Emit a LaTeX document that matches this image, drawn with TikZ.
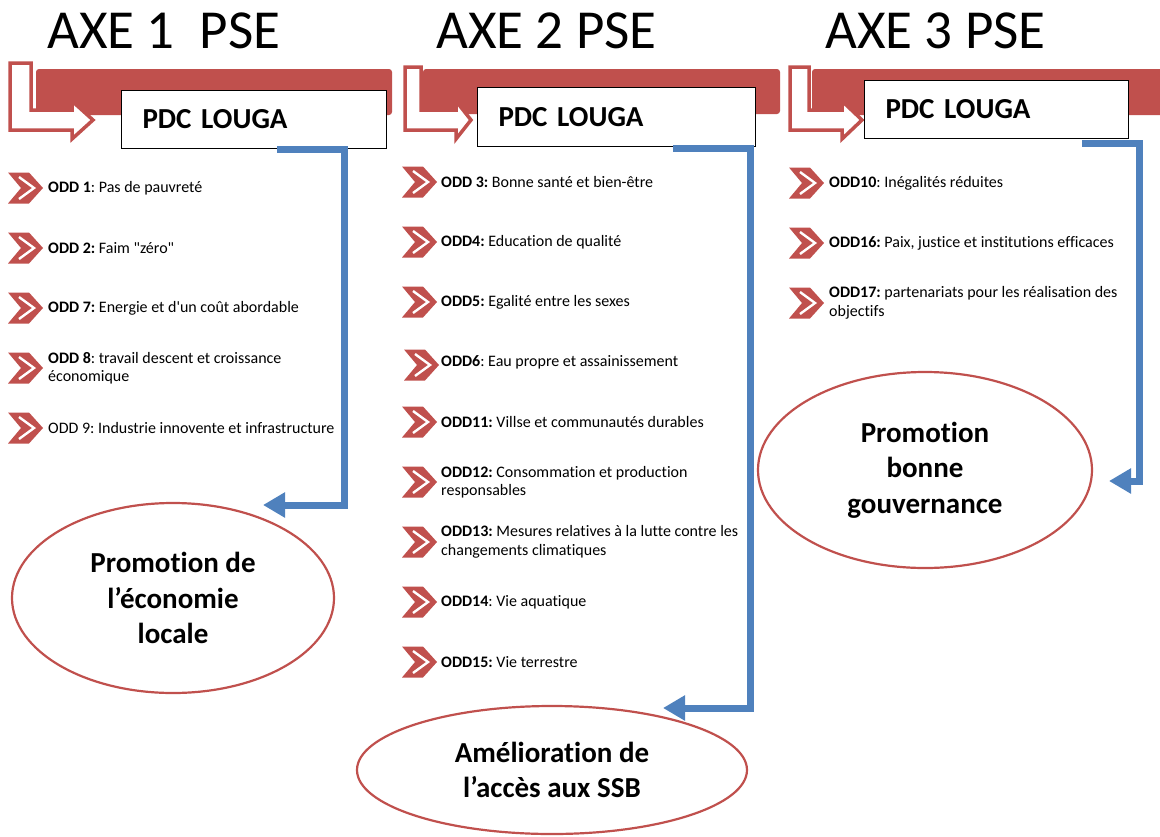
\documentclass[tikz,border=0pt]{standalone}
\usepackage{fontspec}
\setmainfont{Carlito}[Ligatures={TeXOff,CommonOff}]
\usetikzlibrary{shapes.geometric,arrows.meta}
\definecolor{ored}{HTML}{C0504D}
\definecolor{oblue}{HTML}{4F81BD}
\newcommand\bentarr[5]{%
  \draw[bentst] (#1,#5) -- (#2,#5) -- (#2,110) -- (#3,110) -- (#3,101) -- (#4,120) -- (#3,139) -- (#3,130) -- (#1,130) -- cycle;}
\newcommand\chevmark[2]{%
  \begin{scope}[shift={(#1,#2)}]
    \fill[ored] (0,-15.5) -- (21,-15.5) -- (35,0) -- (21,15.5) -- (0,15.5) -- (13,0) -- cycle;
    \draw[white, line width=2.4pt] (11,-11) -- (26,0) -- (11,11);
  \end{scope}}
\begin{document}
\frenchspacing
\begin{tikzpicture}[x=1pt,y=-1pt,
  titletext/.style={anchor=base west, inner sep=0pt, font=\fontsize{55}{60}\selectfont},
  bar/.style={fill=ored, rounded corners=3pt},
  bentst/.style={draw=ored, fill=white, line width=3.5pt, line join=miter},
  pdc/.style={draw=black, line width=1pt, fill=white, anchor=north west, inner xsep=21pt, inner ysep=0pt, align=left, font=\bfseries\fontsize{29}{35}\selectfont},
  item/.style={anchor=west, inner sep=0pt, align=left, font=\fontsize{16}{18.5}\selectfont},
  goal/.style={ellipse, draw=ored, line width=2.2pt, align=center, inner sep=0pt, font=\bfseries\fontsize{29}{35.5}\selectfont},
  blueconn/.style={draw=oblue, line width=7pt, line join=miter, -{Triangle[length=22pt,width=24pt]}}
  ]
\useasboundingbox (0,0) rectangle (1160,836);
\clip (0,0) rectangle (1160,836);

% titles
\node[titletext] (t1) at (47,48) {AXE 1\ \ PSE};
\node[titletext] (t2) at (436,48) {AXE 2 PSE};
\node[titletext] (t3) at (825,48) {AXE 3 PSE};

% header bars
\fill[bar] (36,69) rectangle (392,115);
\fill[bar] (423,69) rectangle (780,114);
\fill[bar] (812,69) rectangle (1170,115);

% bent arrows
\bentarr{10}{31}{72}{93}{63}
\bentarr{405}{421}{456}{471}{67}
\bentarr{790}{809}{842}{862}{67}

% PDC boxes
\node[pdc, text width=223pt, minimum width=265pt, minimum height=58pt] (box1) at (121,90) {PDC LOUGA};
\node[pdc, text width=236pt, minimum width=278pt, minimum height=59pt] (box2) at (477,87) {PDC LOUGA};
\node[pdc, text width=222pt, minimum width=264pt, minimum height=58pt] (box3) at (864,80) {PDC LOUGA};

% axis 1 items
\chevmark{8}{188}
\node[item] (a11) at (48,188) {\textbf{ODD 1}: Pas de pauvreté};
\chevmark{8}{248}
\node[item] (a12) at (48,248) {\textbf{ODD 2:} Faim "zéro"};
\chevmark{8}{308}
\node[item] (a13) at (48,308) {\textbf{ODD 7:} Energie et d'un coût abordable};
\chevmark{8}{368}
\node[item] (a14) at (48,368) {\textbf{ODD 8}: travail descent et croissance\\économique};
\chevmark{8}{428}
\node[item] (a15) at (48,428) {ODD 9: Industrie innovente et infrastructure};

% axis 2 items
\chevmark{402}{182}
\node[item] (a21) at (441,182) {\textbf{ODD 3:} Bonne santé et bien-être};
\chevmark{402}{242}
\node[item] (a22) at (441,242) {\textbf{ODD4:} Education de qualité};
\chevmark{402}{302}
\node[item] (a23) at (441,302) {\textbf{ODD5:} Egalité entre les sexes};
\chevmark{404}{365}
\node[item] (a24) at (441,362) {\textbf{ODD6}: Eau propre et assainissement};
\chevmark{402}{422}
\node[item] (a25) at (441,422) {\textbf{ODD11:} Villse et communautés durables};
\chevmark{402}{482}
\node[item] (a26) at (441,482) {\textbf{ODD12:} Consommation et production\\responsables};
\chevmark{402}{542}
\node[item] (a27) at (441,542) {\textbf{ODD13:} Mesures relatives à la lutte contre les\\changements climatiques};
\chevmark{402}{602}
\node[item] (a28) at (441,602) {\textbf{ODD14}: Vie aquatique};
\chevmark{402}{662}
\node[item] (a29) at (441,662) {\textbf{ODD15:} Vie terrestre};

% axis 3 items
\chevmark{789}{183}
\node[item] (a31) at (829,183) {\textbf{ODD10}: Inégalités réduites};
\chevmark{789}{243}
\node[item] (a32) at (829,243) {\textbf{ODD16:} Paix, justice et institutions efficaces};
\chevmark{789}{303}
\node[item] (a33) at (829,303) {\textbf{ODD17:} partenariats pour les réalisation des\\objectifs};

% goals
\node[goal, minimum width=322pt, minimum height=190pt] (e1) at (173,598) {Promotion de\\l’économie\\locale};
\node[goal, minimum width=390pt, minimum height=128pt] (e2) at (552,770) {Amélioration de\\l’accès aux SSB};
\node[goal, minimum width=334pt, minimum height=196pt] (e3) at (925,470) {Promotion\\bonne\\gouvernance};

% blue connectors
\coordinate (k1) at (344,505);
\coordinate (g1) at (263,505);
\coordinate (k2) at (750,708);
\coordinate (g2) at (663,708);
\coordinate (k3) at (1139,481);
\coordinate (g3) at (1109,481);
\draw[blueconn] ([xshift=156pt]box1.south west) -| (k1) -- (g1);
\draw[blueconn] ([xshift=196pt,yshift=-1pt]box2.south west) -| (k2) -- (g2);
\draw[blueconn] ([xshift=218pt,yshift=-4pt]box3.south west) -| (k3) -- (g3);
\end{tikzpicture}
\end{document}
